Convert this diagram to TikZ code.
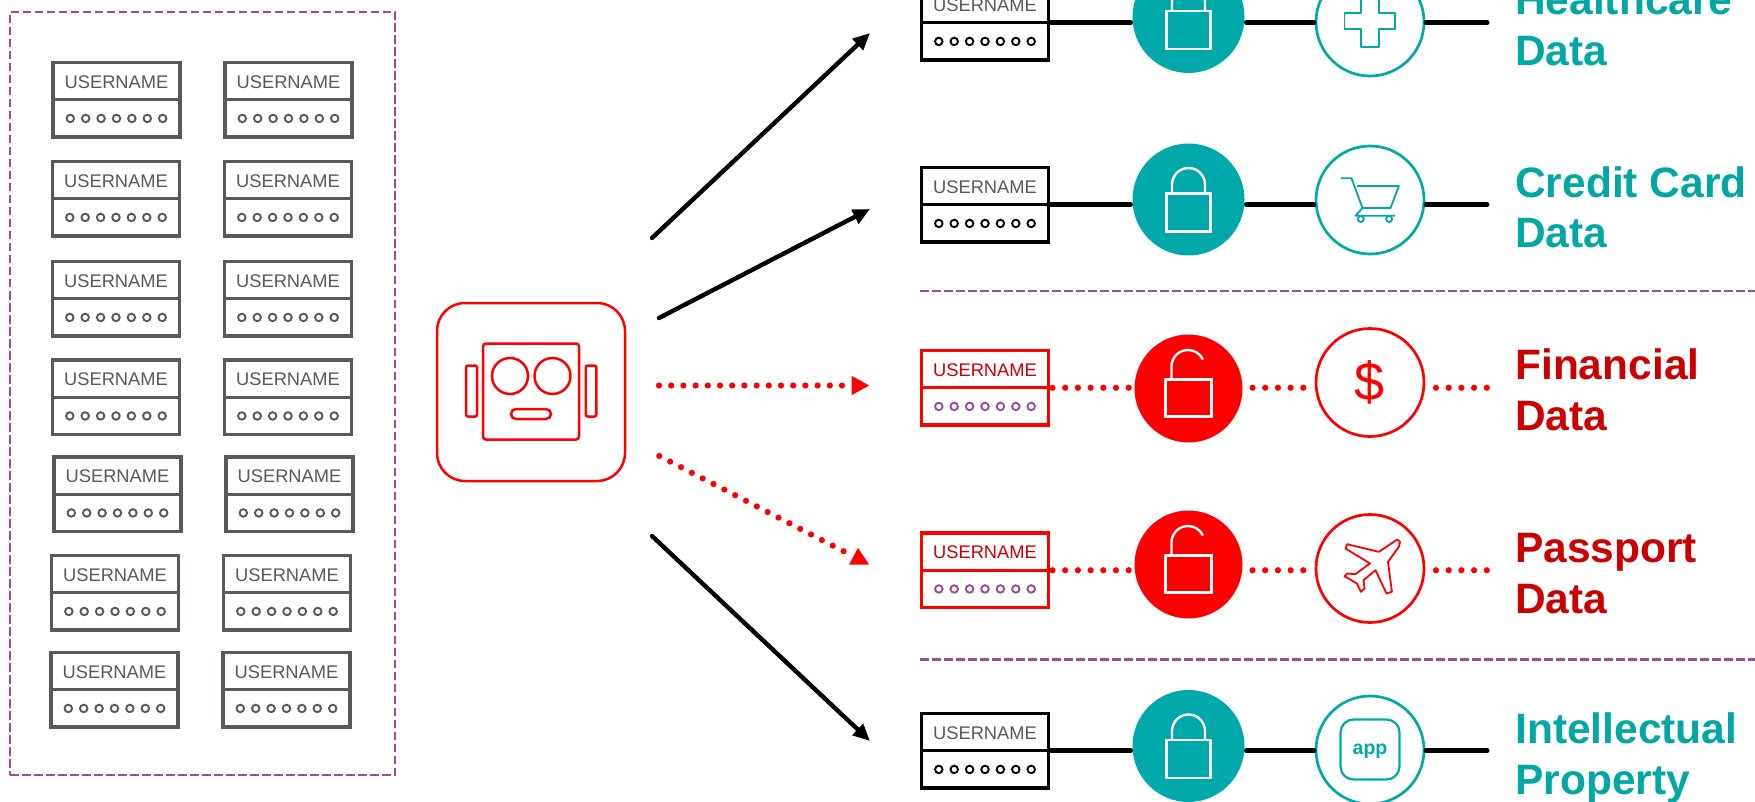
\documentclass[tikz,border=0pt]{standalone}
\usepackage{fontspec}
\setmainfont{Liberation Sans}
\usetikzlibrary{arrows.meta,calc,shapes.misc}
\definecolor{teal}{HTML}{00A9A9}
\definecolor{tealtxt}{HTML}{00A7A3}
\definecolor{redtxt}{HTML}{CC0000}
\definecolor{purp}{HTML}{9B4A9C}
\definecolor{grayline}{HTML}{58595B}
\tikzset{
  framebox/.style={draw,minimum width=127pt,minimum height=74.5pt,inner sep=0,outer sep=0,anchor=north west,line width=3.4pt,fill=white},
  usertext/.style={font=\fontsize{18.3}{20}\selectfont,anchor=base,inner sep=0},
  pwdot/.style={draw,circle,line width=1.9pt,minimum size=7.5pt,inner sep=0},
  lockdisc/.style={circle,inner sep=0,outer sep=0},
  iconring/.style={circle,draw,fill=white,line width=2.7pt,minimum size=108pt,inner sep=0,outer sep=0},
  lockline/.style={draw=white,line width=2.4pt},
  iconline/.style={line width=1.8pt,line join=round},
  solidlink/.style={line width=5pt,black,line cap=round},
  reddots/.style={line width=6.2pt,red,line cap=round,dash pattern=on 0pt off 12.2pt},
  rowdots/.style={line width=6.2pt,red,line cap=round,dash pattern=on 0pt off 12.7pt},
  hackarrow/.style={line width=4.4pt,black,line cap=round,-{Triangle[length=17pt,width=15pt]}},
  hrule/.style={draw=purp,line width=2.8pt,dash pattern=on 8.5pt off 3.5pt},
  biglabel/.style={font=\bfseries\fontsize{42.5}{51}\selectfont,anchor=base west,inner sep=0,align=left},
}
\newcommand{\credbox}[6]{% name, x, top, frame, text, dots
  \node[framebox,draw=#4] (#1) at (#2+1.5,#3+1.5) {};
  \draw[#4,line width=3.4pt] (#1.west) -- (#1.east);
  \node[usertext,text=#5] at ([yshift=11.5pt]#1.center) {USERNAME};
  \foreach \i in {-3,...,3}
    \node[pwdot,draw=#6] at ([xshift=\i*15.4pt,yshift=-18.7pt]#1.center) {};
}
\newcommand{\closedlock}[2]{%
  \draw[lockline] (#1-22,#2-6) rectangle (#1+22,#2+32);
  \draw[lockline] (#1-16.5,#2-6) -- (#1-16.5,#2-15) arc[start angle=180,end angle=0,radius=16.5pt] -- (#1+16.5,#2-6);
}
\newcommand{\openlock}[2]{%
  \draw[lockline] (#1-23,#2-9) rectangle (#1+23,#2+28);
  \draw[lockline] (#1-17,#2-9) -- (#1-17,#2-22) arc[start angle=180,end angle=25,radius=16.5pt];
}
\begin{document}
\begin{tikzpicture}[x=1pt,y=-1pt]
\useasboundingbox (0,0) rectangle (1755,802);
% left panel
\node[draw=purp,line width=2.8pt,dash pattern=on 8.5pt off 3.5pt,minimum width=385pt,minimum height=763pt,inner sep=0,outer sep=0] (panel) at (202.5,393.5) {};
\credbox{a1}{51.5}{61}{grayline}{grayline}{grayline}
\credbox{b1}{223.5}{61}{grayline}{grayline}{grayline}
\credbox{a2}{51}{160}{grayline}{grayline}{grayline}
\credbox{b2}{223}{160}{grayline}{grayline}{grayline}
\credbox{a3}{51}{260}{grayline}{grayline}{grayline}
\credbox{b3}{223}{260}{grayline}{grayline}{grayline}
\credbox{a4}{51}{358.5}{grayline}{grayline}{grayline}
\credbox{b4}{223}{358.5}{grayline}{grayline}{grayline}
\credbox{a5}{52.5}{455.5}{grayline}{grayline}{grayline}
\credbox{b5}{224.5}{455.5}{grayline}{grayline}{grayline}
\credbox{a6}{50}{554}{grayline}{grayline}{grayline}
\credbox{b6}{222}{554}{grayline}{grayline}{grayline}
\credbox{a7}{49.5}{651}{grayline}{grayline}{grayline}
\credbox{b7}{221.5}{651}{grayline}{grayline}{grayline}
% robot
\node[draw=red,line width=2.5pt,rounded corners=28pt,minimum width=188pt,minimum height=178pt,inner sep=0,outer sep=0] (robot) at (531,392) {};
\node[draw=red,line width=2.5pt,rounded corners=3pt,minimum width=96pt,minimum height=96pt,inner sep=0] (head) at (531,391.5) {};
\node[draw=red,line width=2.5pt,circle,minimum size=36pt,inner sep=0] (eyeL) at (510,376) {};
\node[draw=red,line width=2.5pt,circle,minimum size=36pt,inner sep=0] (eyeR) at (552.5,376) {};
\node[draw=red,line width=2.5pt,rounded rectangle,minimum width=40pt,minimum height=10pt,inner sep=0] (mouth) at (531,414) {};
\node[draw=red,line width=2.5pt,rounded corners=2pt,minimum width=11pt,minimum height=51pt,inner sep=0] (earL) at (471.5,391) {};
\node[draw=red,line width=2.5pt,rounded corners=2pt,minimum width=10.5pt,minimum height=51pt,inner sep=0] (earR) at (591,391) {};
% arrows
\coordinate (s1) at (652,238); \coordinate (e1) at (870,33);
\coordinate (s2) at (659,318); \coordinate (e2) at (870,209);
\coordinate (s3) at (659,385.5); \coordinate (e3) at (869.5,385.5);
\coordinate (s4) at (659.3,456); \coordinate (e4) at (846,552.5);
\coordinate (s5) at (652,536); \coordinate (e5) at (870,741);
\draw[hackarrow] (s1) -- (e1);
\draw[hackarrow] (s2) -- (e2);
\draw[reddots,-{Triangle[length=18pt,width=18pt]}] (s3) -- (e3);
\draw[reddots] (s4) -- (e4);
\fill[red] (858,548) -- (869,564.5) -- (849,564.5) -- cycle;
\draw[hackarrow] (s5) -- (e5);
% rules
\coordinate (r1a) at (920,291); \coordinate (r1b) at (1755,291);
\coordinate (r2a) at (920,659.5); \coordinate (r2b) at (1755,659.5);
\draw[hrule] (r1a) -- (r1b);
\draw[hrule] (r2a) -- (r2b);
% right rows
\credbox{c1}{920}{-16}{black}{grayline}{black}
\credbox{c2}{920}{166}{black}{grayline}{black}
\credbox{c3}{920}{349}{red}{redtxt}{purp}
\credbox{c4}{920}{531.5}{red}{redtxt}{purp}
\credbox{c5}{920}{712}{black}{grayline}{black}
% discs
\node[lockdisc,fill=teal,minimum size=112pt] (l1) at (1188.5,17) {};
\node[lockdisc,fill=teal,minimum size=112pt] (l2) at (1188.5,199.5) {};
\node[lockdisc,fill=red,minimum size=108pt] (l3) at (1188.5,388.5) {};
\node[lockdisc,fill=red,minimum size=108pt] (l4) at (1188.5,564.5) {};
\node[lockdisc,fill=teal,minimum size=112pt] (l5) at (1188.5,746) {};
\closedlock{1188.5}{17}
\closedlock{1188.5}{199.5}
\openlock{1188.5}{388.5}
\openlock{1188.5}{564.5}
\closedlock{1188.5}{746}
% rings
\node[iconring,draw=teal] (i1) at (1370,22) {};
\node[iconring,draw=teal] (i2) at (1370,200) {};
\node[iconring,draw=red] (i3) at (1370,382.5) {};
\node[iconring,draw=red] (i4) at (1370,568.5) {};
\node[iconring,draw=teal] (i5) at (1370,750) {};
% connector ends
\foreach \n in {1,...,5}{ \coordinate (t\n) at (1487,0); }
\foreach \n in {1,2,5}{
  \draw[solidlink] (c\n.east) -- ([xshift=-2pt]c\n.east -| l\n.west);
  \draw[solidlink] ([xshift=2pt]c\n.east -| l\n.east) -- ([xshift=-2pt]c\n.east -| i\n.west);
  \draw[solidlink] ([xshift=2pt]c\n.east -| i\n.east) -- (c\n.east -| t\n);
}
\foreach \n in {3,4}{
  \draw[rowdots] ([xshift=4pt]c\n.east) -- ([xshift=1pt]c\n.east -| l\n.west);
  \draw[rowdots] ([xshift=10pt]c\n.east -| l\n.east) -- ([xshift=-8pt]c\n.east -| i\n.west);
  \draw[rowdots] ([xshift=12pt]c\n.east -| i\n.east) -- ([xshift=1pt]c\n.east -| t\n);
}
% icons
\draw[teal,iconline] (1361,-4) -- (1379,-4) -- (1379,12.7) -- (1395,12.7) -- (1395,29.3) -- (1379,29.3) -- (1379,46.7) -- (1361,46.7) -- (1361,29.3) -- (1344.4,29.3) -- (1344.4,12.7) -- (1361,12.7) -- cycle;
\begin{scope}[shift={(1369.5,200)}]
  \draw[teal,iconline] (-29,-21.7) -- (-18,-21.7) -- (-7,8) -- (-14,15.7) -- (25.6,15.7);
  \draw[teal,iconline] (-12.5,-14) -- (29.4,-14) -- (21,8) -- (-7,8);
  \draw[teal,line width=1.8pt] (-8.7,19) circle[radius=3pt];
  \draw[teal,line width=1.8pt] (19.6,19) circle[radius=3pt];
\end{scope}
\node[text=red,inner sep=0,font=\fontsize{54}{60}\selectfont] (dollar) at (1369.5,382.5) {\$};
\begin{scope}[shift={(1369.5,568.5)}]
  \draw[red,iconline] (27.8,-29) -- (9.3,-16.7) -- (-22.4,-24.3) -- (-24,-20) -- (0.5,-5) -- (-14.2,5.7) -- (-22.4,5) -- (-25,7.7) -- (-12.5,15) -- (-8.7,23.3) -- (-4.9,20) -- (-6,11.7) -- (6,1.7) -- (17,25) -- (22.4,23.3) -- (18.5,-6.7) -- (29.4,-21.7) -- (30.5,-26.7) -- cycle;
\end{scope}
\node[draw=teal,line width=2.2pt,rounded corners=13pt,minimum width=59pt,minimum height=60pt,inner sep=0] (appbox) at (1370,749.5) {};
\node[text=teal,inner sep=0,font=\bfseries\fontsize{19.5}{20}\selectfont] (apptxt) at (1370,751) {app};
% labels
\node[biglabel,text=tealtxt] (h1) at (1515,66) {Healthcare\\Data};
\node[biglabel,text=tealtxt] (h2) at (1515,248) {Credit Card\\Data};
\node[biglabel,text=redtxt] (h3) at (1515,430) {Financial\\Data};
\node[biglabel,text=redtxt] (h4) at (1515,613) {Passport\\Data};
\node[biglabel,text=tealtxt] (h5) at (1515,794.5) {Intellectual\\Property};
\end{tikzpicture}
\end{document}
